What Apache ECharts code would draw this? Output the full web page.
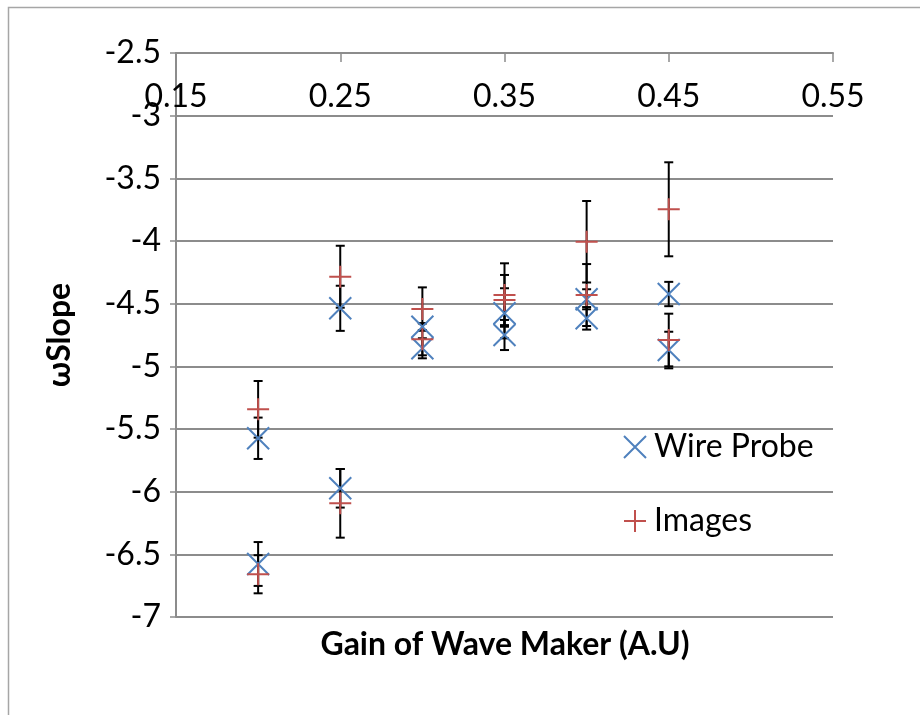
<!DOCTYPE html>
<html>
<head>
<meta charset="utf-8">
<script src="https://cdn.jsdelivr.net/npm/echarts@6/dist/echarts.min.js"></script>
<style>
html,body{margin:0;padding:0;background:#fff;}
#c{width:920px;height:715px;}
</style>
</head>
<body>
<div id="c"></div>
<script>
// ---- data ----
var xTicks = [0.15, 0.25, 0.35, 0.45, 0.55];
var gainWire = [0.2, 0.2, 0.25, 0.25, 0.3, 0.3, 0.35, 0.35, 0.4, 0.4, 0.45, 0.45];
var slopeWire = [-5.574, -6.577, -4.537, -5.973, -4.684, -4.856, -4.577, -4.75, -4.465, -4.617, -4.423, -4.87];
var errWire = [0.165, 0.175, 0.18, 0.154, 0.027, 0.08, 0.2, 0.12, 0.08, 0.09, 0.097, 0.146];
var gainImg = [0.2, 0.2, 0.25, 0.25, 0.3, 0.3, 0.35, 0.35, 0.4, 0.4, 0.45, 0.45];
var slopeImg = [-5.343, -6.659, -4.285, -6.093, -4.543, -4.784, -4.431, -4.471, -4.006, -4.431, -3.747, -4.79];
var errImg = [0.226, 0.152, 0.247, 0.274, 0.173, 0.128, 0.253, 0.2, 0.325, 0.247, 0.375, 0.21];

var FONT = 'Lato';
var FS = 32;
var BLUE = '#4F81BD', RED = '#C0504D', GRID = '#8c8c8c';

function pts(xs, ys) { return xs.map(function (x, i) { return [x, ys[i]]; }); }
function errPts(xs, ys, es) { return xs.map(function (x, i) { return [x, ys[i], es[i]]; }); }

function errRender(params, api) {
  var x = api.value(0), y = api.value(1), e = api.value(2);
  var top = api.coord([x, y + e]);
  var bot = api.coord([x, y - e]);
  var cw = 4.5;
  var st = { stroke: '#000', lineWidth: 2 };
  return {
    type: 'group',
    children: [
      { type: 'line', shape: { x1: top[0], y1: top[1], x2: bot[0], y2: bot[1] }, style: st },
      { type: 'line', shape: { x1: top[0] - cw, y1: top[1], x2: top[0] + cw, y2: top[1] }, style: st },
      { type: 'line', shape: { x1: bot[0] - cw, y1: bot[1], x2: bot[0] + cw, y2: bot[1] }, style: st }
    ]
  };
}

var chart = echarts.init(document.getElementById('c'), null, { renderer: 'canvas' });
chart.setOption({
  animation: false,
  backgroundColor: '#fff',
  grid: { left: 176, right: 87, top: 53, bottom: 98, containLabel: false },
  graphic: [
    { type: 'rect', shape: { x: 8.5, y: 7.5, width: 1200, height: 1200 }, style: { fill: 'none', stroke: '#a6a6a6', lineWidth: 1.5 }, silent: true },
    { type: 'text', x: 505, y: 645, style: { text: 'Gain of Wave Maker (A.U)', font: 'bold ' + FS + 'px ' + FONT, fill: '#000', align: 'center', verticalAlign: 'middle' } }
  ],
  xAxis: {
    type: 'value', position: 'top', min: 0.15, max: 0.55, interval: 0.1,
    axisLine: { show: true, onZero: false, lineStyle: { color: GRID, width: 2 } },
    axisTick: { show: true, inside: true, length: 9, lineStyle: { color: GRID, width: 1.5 } },
    axisLabel: { inside: true, margin: 28, fontFamily: FONT, fontSize: FS, color: '#000',
      formatter: function (v) { return (Math.round(v * 100) / 100).toFixed(2); } },
    splitLine: { show: false }
  },
  yAxis: {
    type: 'value', min: -7, max: -2.5, interval: 0.5,
    name: 'ωSlope', nameLocation: 'middle', nameGap: 100,
    nameTextStyle: { fontFamily: FONT, fontSize: FS, fontWeight: 'bold', color: '#000' },
    axisLine: { show: true, onZero: false, lineStyle: { color: GRID, width: 2 } },
    axisTick: { show: true, length: 6, lineStyle: { color: GRID, width: 1.5 } },
    axisLabel: { margin: 15, fontFamily: FONT, fontSize: FS, color: '#000',
      formatter: function (v) { return String(Math.round(v * 10) / 10); } },
    splitLine: { show: true, lineStyle: { color: GRID, width: 2 } }
  },
  legend: {
    orient: 'vertical', left: 618, top: 426, itemGap: 42, itemWidth: 22, itemHeight: 22,
    textStyle: { fontFamily: FONT, fontSize: FS, color: '#000', padding: [0, 0, 0, 3] },
    data: ['Wire Probe', 'Images']
  },
  series: [
    { name: 'errWire', type: 'custom', renderItem: errRender, data: errPts(gainWire, slopeWire, errWire), z: 1, silent: true },
    { name: 'Wire Probe', type: 'scatter', data: pts(gainWire, slopeWire), z: 3,
      symbol: 'path://M0,0L10,10M10,0L0,10', symbolSize: 22,
      itemStyle: { color: 'rgba(0,0,0,0)', borderColor: BLUE, borderWidth: 2, opacity: 1 } },
    { name: 'errImg', type: 'custom', renderItem: errRender, data: errPts(gainImg, slopeImg, errImg), z: 1, silent: true },
    { name: 'Images', type: 'scatter', data: pts(gainImg, slopeImg), z: 4,
      symbol: 'path://M5,0L5,10M0,5L10,5', symbolSize: 22,
      itemStyle: { color: 'rgba(0,0,0,0)', borderColor: RED, borderWidth: 2, opacity: 1 } }
  ]
});
</script>
</body>
</html>
